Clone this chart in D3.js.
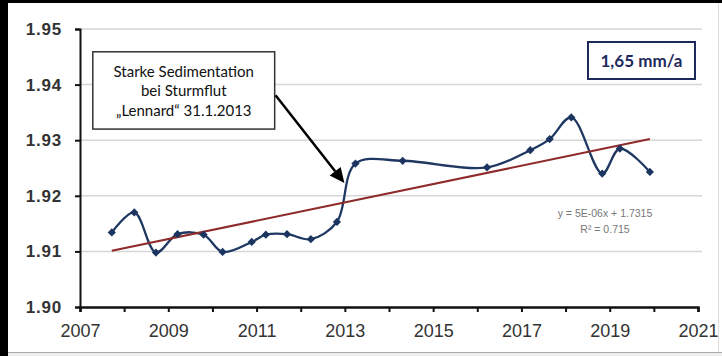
<!DOCTYPE html>
<html><head><meta charset="utf-8">
<script src="https://cdn.jsdelivr.net/npm/d3@7"></script>
<style>
html,body{margin:0;padding:0;background:#fff;}
svg{display:block;}
</style></head>
<body>
<svg id="c" width="722" height="356"></svg>
<script>
// ---- data ----
const years = [2007.72, 2008.23, 2008.72, 2009.21, 2009.80, 2010.23, 2010.89, 2011.21, 2011.69, 2012.23,
               2012.82, 2013.24, 2014.31, 2016.22, 2017.20, 2017.64, 2018.13, 2018.83, 2019.23, 2019.91];
const heights = [1.9134, 1.9170, 1.9098, 1.9131, 1.9130, 1.9099, 1.9117, 1.9130, 1.9131, 1.9122,
                 1.9153, 1.9258, 1.9263, 1.9251, 1.9282, 1.9302, 1.9341, 1.9240, 1.9285, 1.9243];
const trendYears = [2007.72, 2019.91];
const trendValues = [1.9101, 1.9302];
const yTicks = [1.90, 1.91, 1.92, 1.93, 1.94, 1.95];
const xTicks = [2007,2008,2009,2010,2011,2012,2013,2014,2015,2016,2017,2018,2019,2020,2021];
const xLabels = [2007, 2009, 2011, 2013, 2015, 2017, 2019, 2021];
const noteLines = ["Starke Sedimentation", "bei Sturmflut", "\u201ELennard\u201C 31.1.2013"];
const rateLabel = "1,65 mm/a";
const eqLines = ["y = 5E-06x + 1.7315", "R\u00B2 = 0.715"];

const svg = d3.select("#c");
// frame
svg.append("rect").attr("x",0).attr("y",0).attr("width",722).attr("height",356).attr("fill","#fff");
svg.append("rect").attr("x",0).attr("y",0).attr("width",722).attr("height",3).attr("fill","#000");
svg.append("rect").attr("x",0).attr("y",0).attr("width",8).attr("height",356).attr("fill","#000");
svg.append("line").attr("x1",8).attr("x2",722).attr("y1",352.5).attr("y2",352.5).attr("stroke","#aaa").attr("stroke-width",1);
svg.append("rect").attr("x",8).attr("y",353).attr("width",714).attr("height",3).attr("fill","#eee");
svg.append("line").attr("x1",718.5).attr("x2",718.5).attr("y1",3).attr("y2",352).attr("stroke","#ddd").attr("stroke-width",1);

const x = d3.scaleLinear().domain([2007, 2021]).range([80, 698]);
const y = d3.scaleLinear().domain([1.90, 1.95]).range([307, 29]);

// gridlines
svg.append("g").selectAll("line").data(yTicks.filter(d => d > 1.9)).join("line")
  .attr("x1", x(2007)).attr("x2", 702)
  .attr("y1", d => y(d)).attr("y2", d => y(d))
  .attr("stroke", "#d6d6d6").attr("stroke-width", 1.5);

// y axis
const yAxis = svg.append("g").attr("transform", `translate(${x(2007)},0)`)
  .call(d3.axisLeft(y).tickValues(yTicks).tickFormat(d3.format(".2f")).tickSize(5).tickPadding(13));
yAxis.select(".domain").attr("stroke","#111").attr("stroke-width",2);
yAxis.selectAll(".tick line").attr("stroke","#111").attr("stroke-width",2);
yAxis.selectAll("text").attr("font-family","Liberation Sans, Arial, sans-serif").attr("font-size",17)
  .attr("font-weight","bold").attr("fill","#333").attr("letter-spacing","0.8px");

// x axis
const xAxis = svg.append("g").attr("transform", `translate(0,${y(1.90)})`)
  .call(d3.axisBottom(x).tickValues(xTicks).tickFormat(d => xLabels.includes(d) ? String(d) : "").tickSize(5).tickPadding(12));
xAxis.select(".domain").attr("stroke","#111").attr("stroke-width",2.5);
xAxis.selectAll(".tick line").attr("stroke","#111").attr("stroke-width",2);
xAxis.selectAll("text").attr("font-family","Liberation Sans, Arial, sans-serif").attr("font-size",18)
  .attr("fill","#333");

// data line
const pts = years.map((yr, i) => [yr, heights[i]]);
svg.append("path").datum(pts)
  .attr("d", d3.line().x(d => x(d[0])).y(d => y(d[1])).curve(d3.curveCatmullRom.alpha(0.5)))
  .attr("fill","none").attr("stroke","#1f3862").attr("stroke-width",2.3);

// trend line
svg.append("line")
  .attr("x1", x(trendYears[0])).attr("y1", y(trendValues[0]))
  .attr("x2", x(trendYears[1])).attr("y2", y(trendValues[1]))
  .attr("stroke","#8e2a2a").attr("stroke-width",2);

// markers (square diamonds)
svg.append("g").selectAll("path").data(pts).join("path")
  .attr("transform", d => `translate(${x(d[0])},${y(d[1])}) rotate(45)`)
  .attr("d", d3.symbol().type(d3.symbolSquare).size(34))
  .attr("fill","#1c3560");

// equation
svg.append("g").selectAll("text").data(eqLines).join("text")
  .attr("x", 605).attr("y", (d,i) => 217 + i*16)
  .attr("text-anchor","middle").attr("font-family","Liberation Sans, Arial, sans-serif")
  .attr("font-size",10.5).attr("fill","#777").text(d => d);

// annotation box
const bx0 = x(2007.29), bx1 = x(2011.41), by0 = y(1.9459), by1 = y(1.9320);
svg.append("rect").attr("x", bx0).attr("y", by0).attr("width", bx1 - bx0).attr("height", by1 - by0)
  .attr("fill","#fff").attr("stroke","#333").attr("stroke-width",1.5);
svg.append("g").selectAll("text").data(noteLines).join("text")
  .attr("x", (bx0 + bx1) / 2).attr("y", (d,i) => by0 + 25 + i*19.5)
  .attr("text-anchor","middle").attr("font-family","Lato, 'Open Sans', sans-serif")
  .attr("font-size",15).attr("fill","#111").text(d => d);

// arrow
const ax0 = x(2011.43), ay0 = y(1.9381), ax1 = x(2012.99), ay1 = y(1.9223);
const ang = Math.atan2(ay1 - ay0, ax1 - ax0);
const hl = 15, hw = 7;
const bxp = ax1 - hl*Math.cos(ang), byp = ay1 - hl*Math.sin(ang);
svg.append("line").attr("x1", ax0).attr("y1", ay0).attr("x2", bxp).attr("y2", byp)
  .attr("stroke","#000").attr("stroke-width",2.5);
svg.append("path")
  .attr("d", `M${ax1},${ay1}L${bxp + hw*Math.sin(ang)},${byp - hw*Math.cos(ang)}L${bxp - hw*Math.sin(ang)},${byp + hw*Math.cos(ang)}Z`)
  .attr("fill","#000");

// rate box
svg.append("rect").attr("x", 588).attr("y", 42).attr("width", 107).attr("height", 37)
  .attr("fill","#fff").attr("stroke","#1f2a5c").attr("stroke-width",2);
svg.append("text").attr("x", 641.5).attr("y", 66.5).attr("text-anchor","middle")
  .attr("font-family","Lato, 'Open Sans', sans-serif").attr("font-weight","bold")
  .attr("font-size",17).attr("fill","#1f2a5c").text(rateLabel);
</script>
</body></html>
